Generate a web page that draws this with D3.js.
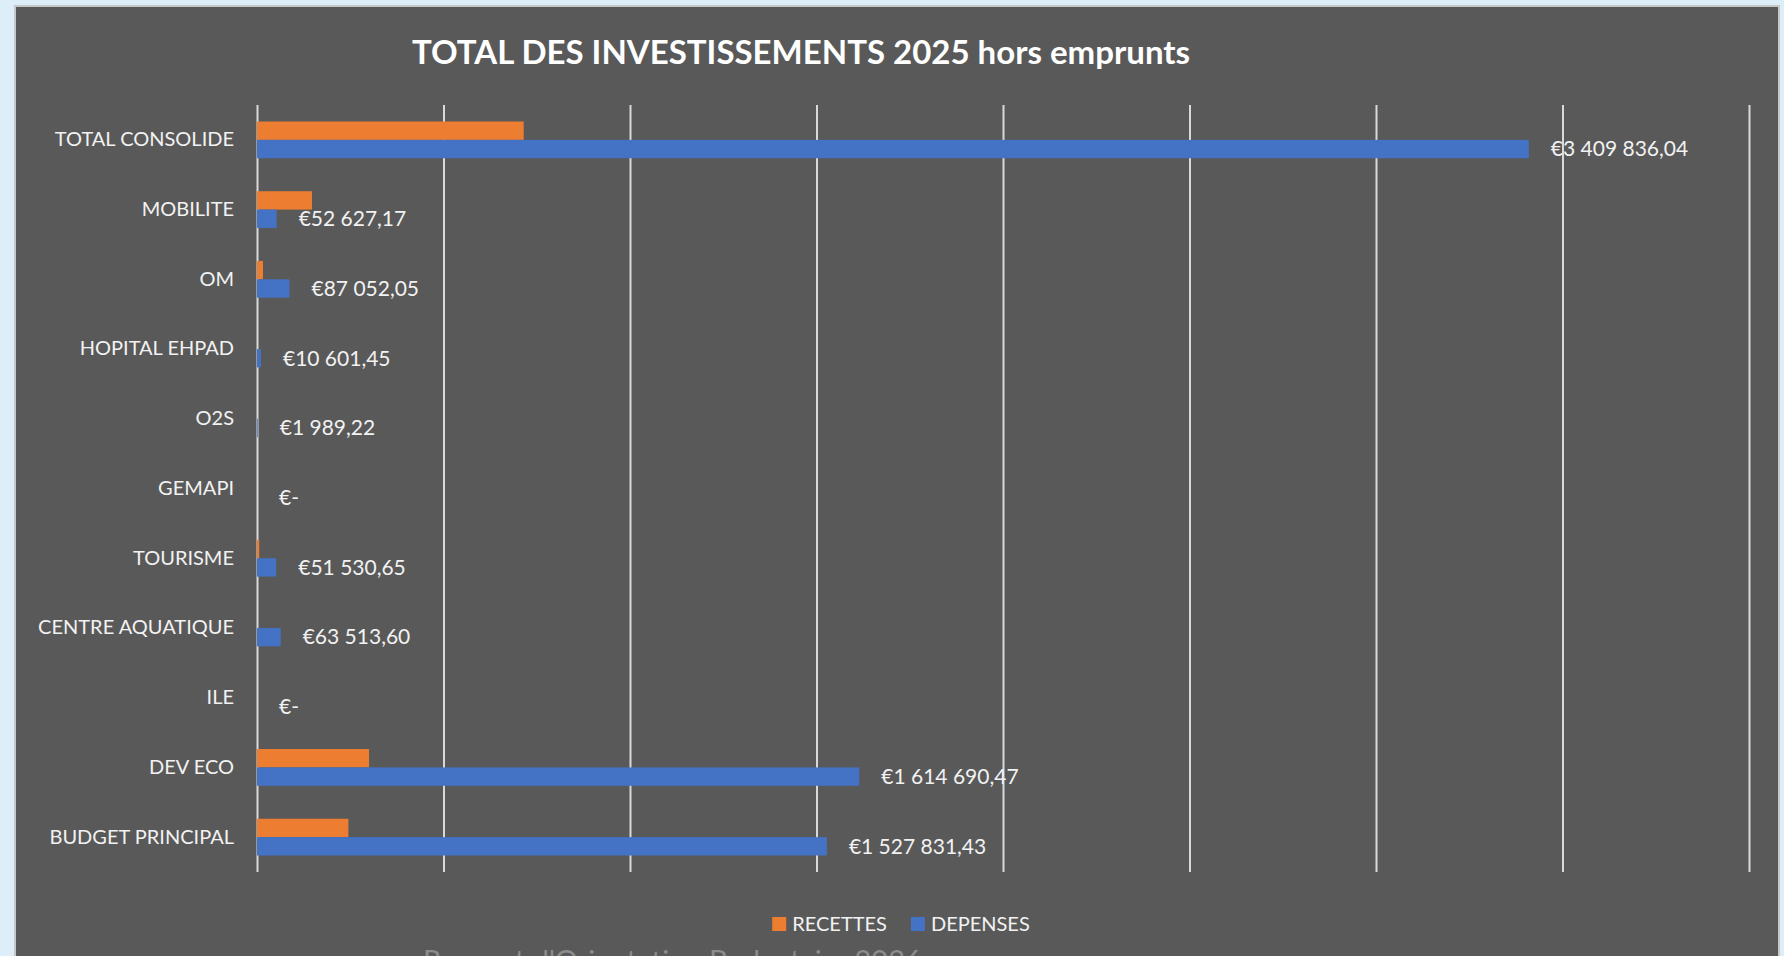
<!DOCTYPE html>
<html>
<head>
<meta charset="utf-8">
<script src="https://cdn.jsdelivr.net/npm/d3@7"></script>
<style>
    body { margin: 0; background: #ddeef8; }
    text { font-family: Lato, "Open Sans", sans-serif; }
</style>
</head>
<body>
<svg id="drawing_region"></svg>
<script>
const categories = ["TOTAL CONSOLIDE", "MOBILITE", "OM", "HOPITAL EHPAD", "O2S", "GEMAPI",
                    "TOURISME", "CENTRE AQUATIQUE", "ILE", "DEV ECO", "BUDGET PRINCIPAL"];
const recettes = [715000, 147500, 16100, 0, 0, 0, 6000, 0, 0, 300400, 245000];
const depenses = [3409836.04, 52627.17, 87052.05, 10601.45, 1989.22, 0,
                  51530.65, 63513.60, 0, 1614690.47, 1527831.43];
const series_names = ["RECETTES", "DEPENSES"];
const series_colors = ["#ed7d31", "#4472c4"];
const x_ticks = [0, 500000, 1000000, 1500000, 2000000, 2500000, 3000000, 3500000, 4000000];
const title_text = "TOTAL DES INVESTISSEMENTS 2025 hors emprunts";
const footer_text = "Rapport d'Orientation Budgetaire 2026";

const data = categories.map( (c, i) => ({ name: c, recettes: recettes[i], depenses: depenses[i] }) );

var config = {
    parent: '#drawing_region',
    width: 1784,
    height: 956,
    margin: {top:105, right:35, bottom:84, left:257}
};

class BarChart {

    constructor( config, data ) {
        this.config = config;
        this.data = data;
        this.init();
    }

    init() {
        let self = this;

        self.svg = d3.select( self.config.parent )
            .attr('width', self.config.width)
            .attr('height', self.config.height);

        // chart panel
        self.svg.append('rect')
            .attr('x', 15).attr('y', 6)
            .attr('width', 1764).attr('height', 960)
            .attr('fill', '#595959')
            .attr('stroke', '#c8c8c8')
            .attr('stroke-width', 2);

        self.chart = self.svg.append('g')
            .attr('transform', `translate(${self.config.margin.left}, ${self.config.margin.top})`);

        self.inner_width = 1749 - self.config.margin.left;
        self.inner_height = 872 - self.config.margin.top;

        self.xscale = d3.scaleLinear()
            .domain([0, 4000000])
            .range([0, self.inner_width]);

        self.yscale = d3.scaleBand()
            .domain(categories)
            .range([0, self.inner_height])
            .paddingInner(0.473)
            .paddingOuter(0.2365);

        self.subscale = d3.scaleBand()
            .domain(series_names)
            .range([0, self.yscale.bandwidth()]);

        self.xaxis = d3.axisBottom( self.xscale )
            .tickValues(x_ticks)
            .tickSize(-self.inner_height)
            .tickFormat('');

        self.yaxis = d3.axisLeft( self.yscale )
            .tickSize(0)
            .tickPadding(23);

        self.xaxis_group = self.chart.append('g')
            .attr('transform', `translate(0, ${self.inner_height})`);

        self.yaxis_group = self.chart.append('g');

        const locale = d3.formatLocale({
            decimal: ",", thousands: "\u202f", grouping: [3], currency: ["€", ""]
        });
        const fmt = locale.format("$,.2f");
        self.label_format = v => v === 0 ? "€-" : fmt(v).replace(/\u202f/g, " ");

        self.svg.append('text')
            .attr('x', 412)
            .attr('y', 64)
            .attr('fill', '#ffffff')
            .attr('font-size', '33px')
            .attr('font-weight', 'bold')
            .text(title_text);

        self.svg.append('text')
            .attr('x', 423)
            .attr('y', 971)
            .attr('fill', '#8c8c8c')
            .attr('font-size', '29px')
            .text(footer_text);
    }

    update() {
        let self = this;
        self.render();
    }

    render() {
        let self = this;

        self.xaxis_group.call( self.xaxis );
        self.xaxis_group.select('.domain').remove();
        self.xaxis_group.selectAll('.tick line')
            .attr('stroke', '#d9d9d9')
            .attr('stroke-width', 2);

        self.yaxis_group.call( self.yaxis );
        self.yaxis_group.select('.domain').remove();
        self.yaxis_group.selectAll('.tick text')
            .attr('fill', '#f2f2f2')
            .attr('font-size', '20px')
            .attr('font-family', 'Lato, sans-serif');

        const groups = self.chart.selectAll('.group')
            .data(self.data)
            .enter()
            .append('g')
            .attr('class', 'group')
            .attr('transform', d => `translate(0, ${self.yscale(d.name)})`);

        groups.append('rect')
            .attr('x', 0)
            .attr('y', self.subscale('RECETTES'))
            .attr('width', d => self.xscale(d.recettes))
            .attr('height', self.subscale.bandwidth())
            .attr('fill', series_colors[0]);

        groups.append('rect')
            .attr('x', 0)
            .attr('y', self.subscale('DEPENSES'))
            .attr('width', d => self.xscale(d.depenses))
            .attr('height', self.subscale.bandwidth())
            .attr('fill', series_colors[1]);

        groups.append('text')
            .attr('x', d => self.xscale(d.depenses) + 22)
            .attr('y', self.subscale('DEPENSES') + self.subscale.bandwidth() / 2)
            .attr('dy', '0.35em')
            .attr('fill', '#f2f2f2')
            .attr('font-size', '21px')
            .text(d => self.label_format(d.depenses));

        // legend
        const legend = self.svg.append('g');
        let lx = 0;
        series_names.forEach( (s, i) => {
            const item = legend.append('g').attr('transform', `translate(${lx}, 0)`);
            item.append('rect')
                .attr('x', 0).attr('y', -7)
                .attr('width', 14).attr('height', 14)
                .attr('fill', series_colors[i]);
            const t = item.append('text')
                .attr('x', 20)
                .attr('dy', '0.35em')
                .attr('fill', '#f2f2f2')
                .attr('font-size', '20px')
                .text(s);
            lx += 20 + t.node().getComputedTextLength() + 24;
        });
        const lw = lx - 24;
        legend.attr('transform', `translate(${901 - lw / 2}, 924)`);
    }
}

const bar_chart = new BarChart( config, data );
bar_chart.update();
</script>
</body>
</html>
